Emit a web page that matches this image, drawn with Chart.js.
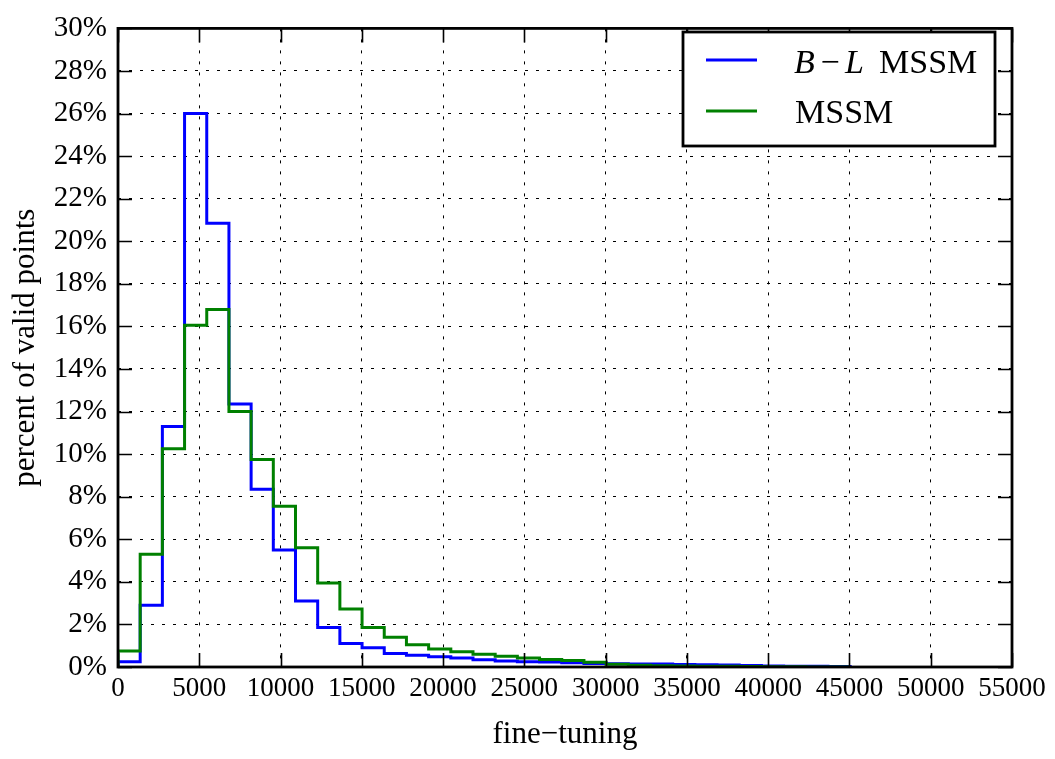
<!DOCTYPE html>
<html>
<head>
<meta charset="utf-8">
<script src="https://cdn.jsdelivr.net/npm/chart.js@4.4.1/dist/chart.umd.min.js"></script>
<style>
html,body{margin:0;padding:0;background:#fff;}
#wrap{width:1055px;height:759px;}
</style>
</head>
<body>
<div id="wrap"><canvas id="c" width="1055" height="759"></canvas></div>
<script>
// ---- data ----
const binWidth = 1365; // width of one histogram bin (fine-tuning units)
const seriesNames = ['B\u2212L MSSM', 'MSSM'];
const blMssm = [0.25, 2.9, 11.3, 26.0, 20.85, 12.35, 8.35, 5.5, 3.1, 1.85, 1.1, 0.9, 0.63, 0.55, 0.48, 0.42, 0.34, 0.28, 0.25, 0.24, 0.2, 0.16, 0.15, 0.14, 0.14, 0.12, 0.1, 0.09, 0.07, 0.05, 0.04, 0.03, 0.02];
const mssm = [0.75, 5.3, 10.25, 16.05, 16.8, 12.0, 9.75, 7.55, 5.6, 3.95, 2.72, 1.85, 1.4, 1.05, 0.85, 0.72, 0.6, 0.5, 0.42, 0.35, 0.3, 0.22, 0.13, 0.08, 0.06, 0.05, 0.04, 0.03, 0.02, 0.01, 0.01, 0, 0];
const xTicks = [0, 5000, 10000, 15000, 20000, 25000, 30000, 35000, 40000, 45000, 50000, 55000];
const yTicks = [0, 2, 4, 6, 8, 10, 12, 14, 16, 18, 20, 22, 24, 26, 28, 30];
const xTitle = 'fine\u2212tuning';
const yTitle = 'percent of valid points';

// build step-histogram outline from bin values
function stepPoints(vals) {
  const pts = [{x: 0, y: 0}];
  vals.forEach((v, i) => {
    pts.push({x: i * binWidth, y: v});
    pts.push({x: (i + 1) * binWidth, y: v});
  });
  pts.push({x: vals.length * binWidth, y: 0});
  return pts;
}

const SERIF = '"Liberation Serif", "DejaVu Serif", serif';

const framePlugin = {
  id: 'frame',
  beforeDraw(chart) {
    const ctx = chart.ctx;
    ctx.save();
    ctx.fillStyle = '#fff';
    ctx.fillRect(0, 0, chart.width, chart.height);
    ctx.restore();
  },
  afterDraw(chart) {
    const ctx = chart.ctx;
    const a = chart.chartArea;
    const xs = chart.scales.x, ys = chart.scales.y;
    ctx.save();
    // inward ticks on all four sides
    ctx.strokeStyle = '#000';
    ctx.lineWidth = 1.6;
    ctx.beginPath();
    xs.ticks.forEach(t => {
      const px = Math.round(xs.getPixelForValue(t.value)) + 0.5;
      ctx.moveTo(px, a.bottom); ctx.lineTo(px, a.bottom - 14);
      ctx.moveTo(px, a.top); ctx.lineTo(px, a.top + 14);
    });
    ys.ticks.forEach(t => {
      const py = Math.round(ys.getPixelForValue(t.value)) + 0.5;
      ctx.moveTo(a.left, py); ctx.lineTo(a.left + 14, py);
      ctx.moveTo(a.right, py); ctx.lineTo(a.right - 14, py);
    });
    ctx.stroke();
    // frame
    ctx.lineWidth = 2.8;
    ctx.strokeRect(a.left, a.top, a.right - a.left, a.bottom - a.top);

    // legend
    const lx = 683, ly = 32, lw = 312, lh = 114;
    ctx.fillStyle = '#fff';
    ctx.fillRect(lx, ly, lw, lh);
    ctx.lineWidth = 2.8;
    ctx.strokeStyle = '#000';
    ctx.strokeRect(lx, ly, lw, lh);
    const rows = [{y: 60, base: 73, color: '#0000ff'}, {y: 111, base: 123, color: '#008000'}];
    rows.forEach(r => {
      ctx.strokeStyle = r.color;
      ctx.lineWidth = 2.8;
      ctx.beginPath();
      ctx.moveTo(706, r.y); ctx.lineTo(757, r.y);
      ctx.stroke();
    });
    ctx.fillStyle = '#000';
    ctx.textBaseline = 'alphabetic';
    ctx.textAlign = 'left';
    // "B−L MSSM" with italic B and L
    ctx.font = 'italic 34px ' + SERIF;
    ctx.fillText('B', 794, rows[0].base);
    ctx.font = '34px ' + SERIF;
    const mw = ctx.measureText('\u2212').width;
    ctx.fillText('\u2212', 830 - mw / 2, rows[0].base);
    ctx.font = 'italic 34px ' + SERIF;
    ctx.fillText('L', 845, rows[0].base);
    ctx.font = '34px ' + SERIF;
    ctx.fillText('MSSM', 879, rows[0].base);
    ctx.fillText(seriesNames[1], 795, rows[1].base);
    ctx.restore();
  }
};

new Chart(document.getElementById('c'), {
  type: 'line',
  data: {
    datasets: [
      {label: seriesNames[1], data: stepPoints(mssm), borderColor: '#008000', borderWidth: 3, pointRadius: 0, fill: false, tension: 0, order: 0},
      {label: seriesNames[0], data: stepPoints(blMssm), borderColor: '#0000ff', borderWidth: 3, pointRadius: 0, fill: false, tension: 0, order: 1}
    ]
  },
  options: {
    responsive: false,
    animation: false,
    devicePixelRatio: 1,
    layout: {padding: {top: 15, right: 43, left: 0, bottom: 0}},
    plugins: {legend: {display: false}, tooltip: {enabled: false}},
    scales: {
      x: {
        type: 'linear', min: 0, max: 55000,
        afterBuildTicks(s) { s.ticks = xTicks.map(v => ({value: v})); },
        afterFit(s) { s.height = 92; },
        ticks: {color: '#000', font: {family: SERIF, size: 27}, padding: 6, maxRotation: 0, autoSkip: false,
          callback: v => String(v)},
        grid: {color: '#000', lineWidth: 1, drawTicks: false},
        border: {display: false, dash: [3, 8]},
        title: {display: true, text: xTitle, color: '#000', font: {family: SERIF, size: 31}, padding: {top: 0, bottom: 6}}
      },
      y: {
        type: 'linear', min: 0, max: 30,
        afterBuildTicks(s) { s.ticks = yTicks.map(v => ({value: v})); },
        afterFit(s) { s.width = 118; },
        ticks: {color: '#000', font: {family: SERIF, size: 29}, padding: 11, autoSkip: false,
          callback: v => v + '%'},
        grid: {color: '#000', lineWidth: 1, drawTicks: false},
        border: {display: false, dash: [3, 8]},
        title: {display: true, text: yTitle, color: '#000', font: {family: SERIF, size: 31}, padding: {top: 7, bottom: 0}}
      }
    }
  },
  plugins: [framePlugin]
});
</script>
</body>
</html>
